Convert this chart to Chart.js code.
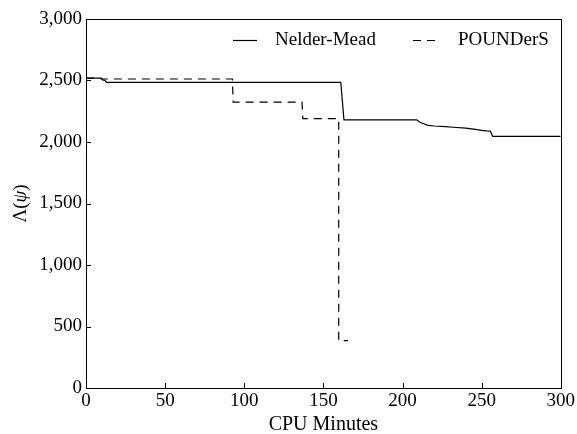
<!DOCTYPE html>
<html>
<head>
<meta charset="utf-8">
<script src="https://cdn.jsdelivr.net/npm/chart.js@4.4.1/dist/chart.umd.min.js"></script>
<style>
  html, body { margin: 0; padding: 0; background: #fff; }
  #wrap { width: 577px; height: 434px; }
</style>
</head>
<body>
<div id="wrap"><canvas id="optChart"></canvas></div>
<script>
// values
var nmMinutes = [0, 9.5, 10.5, 12, 13, 161, 163, 209, 211, 213, 216, 220, 227, 232, 240, 245, 250, 253, 255.5, 257, 300];
var nmValues  = [2520, 2520, 2505, 2500, 2485, 2485, 2180, 2180, 2160, 2150, 2135, 2130, 2125, 2120, 2113, 2105, 2095, 2090, 2088, 2045, 2045];

var pdMinutes = [0, 8, 10, 92.5, 93, 136.5, 137, 159.7, 159.7, 161.5, 165.5];
var pdValues  = [2520, 2520, 2512, 2512, 2325, 2325, 2190, 2190, 385, 385, 385];

var xTickValues = [0, 50, 100, 150, 200, 250, 300];
var yTickValues = [0, 500, 1000, 1500, 2000, 2500, 3000];

var serif = "'Liberation Serif', 'DejaVu Serif', serif";

function toPoints(xs, ys) {
	var pts = [];
	for (var i = 0; i < xs.length; i++) {
		pts.push({x: xs[i], y: ys[i]});
	}
	return pts;
}

function fixTicks(vals) {
	return function (scale) {
		scale.ticks = vals.map(function (v) { return {value: v}; });
	};
}

// frame, inward ticks, y title and legend
var decorPlugin = {
	id: 'decor',
	afterDraw: function (chart) {
		var c = chart.ctx;
		var a = chart.chartArea;
		var xs = chart.scales.x, ys = chart.scales.y;
		c.save();
		c.strokeStyle = '#000';
		c.lineWidth = 1;
		c.strokeRect(Math.round(a.left) + 0.5, Math.round(a.top) + 0.5,
			Math.round(a.right - a.left), Math.round(a.bottom - a.top));

		c.beginPath();
		yTickValues.forEach(function (v) {
			var py = Math.round(ys.getPixelForValue(v)) + 0.5;
			c.moveTo(a.left, py);
			c.lineTo(a.left + 5, py);
		});
		xTickValues.forEach(function (v) {
			var px = Math.round(xs.getPixelForValue(v)) + 0.5;
			c.moveTo(px, a.bottom);
			c.lineTo(px, a.bottom - 5);
		});
		c.stroke();

		// y axis title with italic psi
		c.fillStyle = '#000';
		c.textBaseline = 'middle';
		c.textAlign = 'left';
		var parts = [['Λ(', 'normal'], ['ψ', 'italic'], [')', 'normal']];
		var total = 0;
		parts.forEach(function (p) {
			c.font = p[1] + ' 19px ' + serif;
			total += c.measureText(p[0]).width;
		});
		c.translate(21, (a.top + a.bottom) / 2);
		c.rotate(-Math.PI / 2);
		var cx = -total / 2;
		parts.forEach(function (p) {
			c.font = p[1] + ' 19px ' + serif;
			c.fillText(p[0], cx, 0);
			cx += c.measureText(p[0]).width;
		});
		c.setTransform(1, 0, 0, 1, 0, 0);

		// legend
		var items = [
			{ds: chart.data.datasets[0], x0: 233, x1: 257, tx: 275},
			{ds: chart.data.datasets[1], x0: 413, x1: 435, tx: 458}
		];
		var ly = 40.5;
		c.font = '19px ' + serif;
		items.forEach(function (it) {
			c.beginPath();
			c.lineWidth = it.ds.borderWidth;
			c.setLineDash(it.ds.borderDash || []);
			c.moveTo(it.x0, ly);
			c.lineTo(it.x1, ly);
			c.stroke();
			c.setLineDash([]);
			c.fillText(it.ds.label, it.tx, ly);
		});
		c.restore();
	}
};

var ctx = document.getElementById('optChart').getContext('2d');

var chart = new Chart(ctx, {
	type: 'line',
	data: {
		datasets: [{
			label: 'Nelder-Mead',
			data: toPoints(nmMinutes, nmValues),
			borderColor: '#000',
			borderWidth: 1.2,
			pointRadius: 0,
			fill: false,
			tension: 0
		}, {
			label: 'POUNDerS',
			data: toPoints(pdMinutes, pdValues),
			borderColor: '#000',
			borderWidth: 1.2,
			borderDash: [8, 6],
			pointRadius: 0,
			fill: false,
			tension: 0
		}]
	},
	options: {
		responsive: true,
		maintainAspectRatio: false,
		animation: false,
		devicePixelRatio: 1,
		layout: { padding: { top: 19, right: 14, left: 0, bottom: 0 } },
		plugins: {
			legend: { display: false },
			tooltip: { enabled: false }
		},
		scales: {
			x: {
				type: 'linear',
				min: 0,
				max: 300,
				afterBuildTicks: fixTicks(xTickValues),
				afterFit: function (scale) { scale.height = 46; },
				grid: { display: false, drawTicks: false },
				border: { display: false },
				ticks: {
					padding: 2,
					color: '#000',
					maxRotation: 0,
					font: { family: serif, size: 19 }
				},
				title: {
					display: true,
					text: 'CPU Minutes',
					color: '#000',
					font: { family: serif, size: 20, lineHeight: 0.8 },
					padding: { top: 0, bottom: 1 }
				}
			},
			y: {
				type: 'linear',
				min: 0,
				max: 3000,
				afterBuildTicks: fixTicks(yTickValues),
				afterFit: function (scale) { scale.width = 86; },
				grid: { display: false, drawTicks: false },
				border: { display: false },
				ticks: {
					padding: 4,
					color: '#000',
					font: { family: serif, size: 19 },
					callback: function (v) { return v.toLocaleString('en-US'); }
				}
			}
		}
	},
	plugins: [decorPlugin]
});
</script>
</body>
</html>
